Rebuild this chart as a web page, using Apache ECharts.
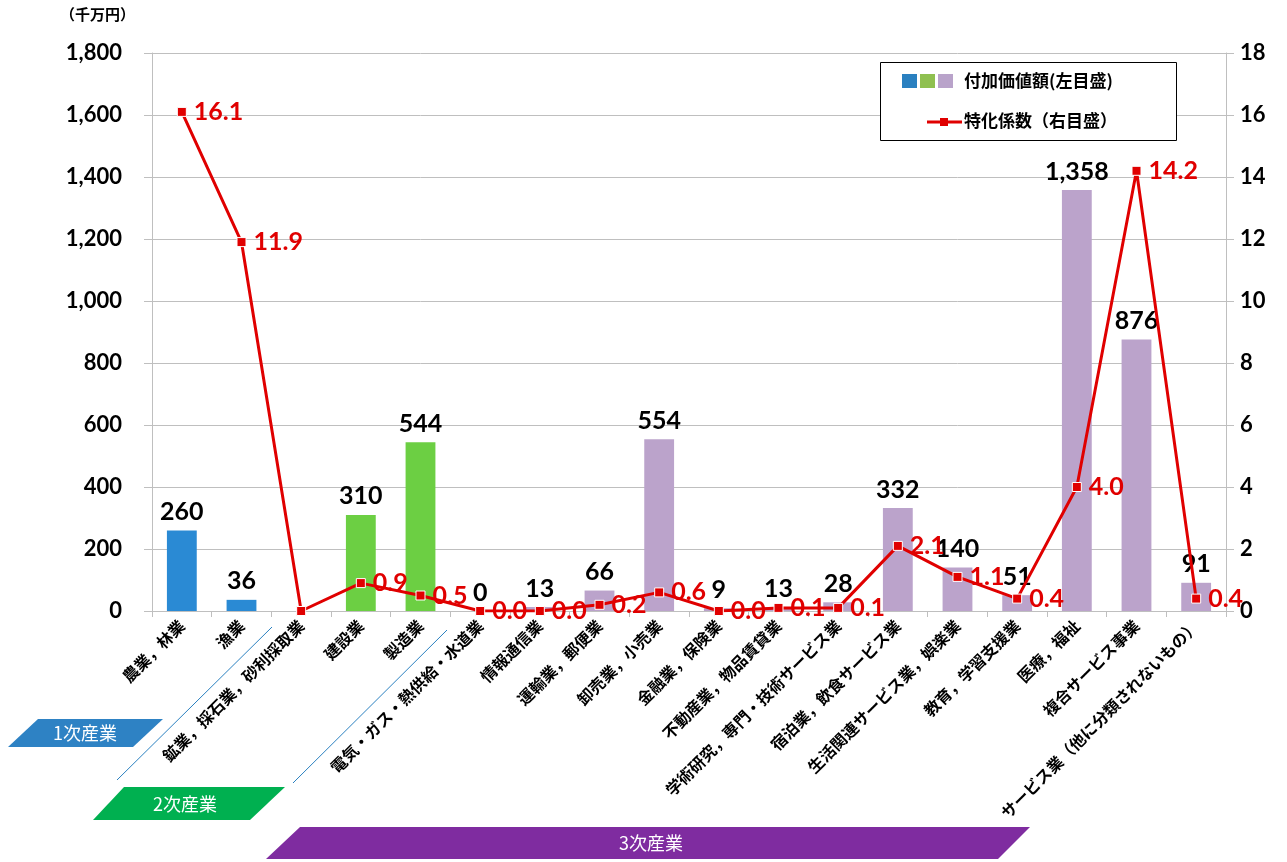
<!DOCTYPE html>
<html><head><meta charset="utf-8">
<script src="https://cdn.jsdelivr.net/npm/echarts@6/dist/echarts.min.js"></script>
<style>html,body{margin:0;padding:0;background:#fff}#c{width:1287px;height:862px}</style>
</head><body><div id="c"></div>
<script>
const categories = ['農業，林業','漁業','鉱業，採石業，砂利採取業','建設業','製造業','電気・ガス・熱供給・水道業','情報通信業','運輸業，郵便業','卸売業，小売業','金融業，保険業','不動産業，物品賃貸業','学術研究，専門・技術サービス業','宿泊業，飲食サービス業','生活関連サービス業，娯楽業','教育，学習支援業','医療，福祉','複合サービス事業','サービス業（他に分類されないもの）'];
const sectors = [1,1,2,2,2,3,3,3,3,3,3,3,3,3,3,3,3,3];
const valueAdded = [260,36,null,310,544,0,13,66,554,9,13,28,332,140,51,1358,876,91];
const coefficient = [16.1,11.9,0,0.9,0.5,0.0,0.0,0.2,0.6,0.0,0.1,0.1,2.1,1.1,0.4,4.0,14.2,0.4];
const coefLabelHidden = [false,false,true,false,false,false,false,false,false,false,false,false,false,false,false,false,false,false];
const leftTicks = {min:0,max:1800,interval:200};
const rightTicks = {min:0,max:18,interval:2};
const sectorColors = {1:'#2A8AD4',2:'#6CCF43',3:'#BBA3CB'};

const JP = '"Noto Sans CJK JP", sans-serif';
const NUM = 'Lato, "Noto Sans CJK JP", sans-serif';

const chart = echarts.init(document.getElementById('c'));
chart.setOption({
  animation:false,
  grid:{left:152,right:61,top:53,bottom:251},
  xAxis:{type:'category',data:categories,
    axisLine:{lineStyle:{color:'#BFBFBF'}},
    axisTick:{show:true,length:6,lineStyle:{color:'#BFBFBF'}},
    axisLabel:{rotate:45,margin:12,interval:0,color:'#000',fontFamily:JP,fontSize:16,fontWeight:'bold'}},
  yAxis:[
    {type:'value',min:leftTicks.min,max:leftTicks.max,interval:leftTicks.interval,
     axisLine:{show:true,lineStyle:{color:'#BFBFBF'}},
     axisTick:{show:true,length:8,lineStyle:{color:'#BFBFBF'}},
     splitLine:{lineStyle:{color:'#BFBFBF'}},
     axisLabel:{margin:30,color:'#000',fontFamily:NUM,fontSize:22,fontWeight:'bold',
       formatter:v=>v.toLocaleString('en-US')}},
    {type:'value',min:rightTicks.min,max:rightTicks.max,interval:rightTicks.interval,
     axisLine:{show:true,lineStyle:{color:'#BFBFBF'}},
     axisTick:{show:true,length:8,lineStyle:{color:'#BFBFBF'}},
     splitLine:{show:false},
     axisLabel:{margin:14,color:'#000',fontFamily:NUM,fontSize:22,fontWeight:'bold'}}
  ],
  series:[
    {type:'bar',yAxisIndex:0,barWidth:'50%',
     data:valueAdded.map((v,i)=>({value:v,itemStyle:{color:sectorColors[sectors[i]]}})),
     label:{show:true,position:'top',distance:6,color:'#000',fontFamily:NUM,fontSize:25,fontWeight:'bold',
       formatter:p=>p.value==null?'':Number(p.value).toLocaleString('en-US')}},
    {type:'line',yAxisIndex:1,z:5,
     data:coefficient.map((v,i)=>({value:v,label:{show:!coefLabelHidden[i]}})),
     lineStyle:{color:'#E00000',width:3},
     symbol:'rect',symbolSize:9,
     itemStyle:{color:'#E00000',borderColor:'#fff',borderWidth:1},
     label:{show:true,position:'right',distance:7,color:'#E00000',fontFamily:NUM,fontSize:25,fontWeight:'bold',
       formatter:p=>Number(p.value).toFixed(1)}}
  ],
  graphic:[
    {type:'text',left:60,top:7,style:{text:'（千万円）',font:'bold 15px '+JP,fill:'#000'}},
    {type:'rect',shape:{x:880.5,y:62.5,width:296,height:78},style:{fill:'#fff',stroke:'#000',lineWidth:1},z:10},
    {type:'rect',shape:{x:902,y:74,width:15,height:14},style:{fill:'#2A80C0'},z:11},
    {type:'rect',shape:{x:920,y:74,width:15,height:14},style:{fill:'#8FC050'},z:11},
    {type:'rect',shape:{x:938,y:74,width:15,height:14},style:{fill:'#B9A3CA'},z:11},
    {type:'text',x:964,y:81,style:{text:'付加価値額(左目盛)',font:'bold 17px '+JP,fill:'#000',verticalAlign:'middle'},z:11},
    {type:'line',shape:{x1:927,y1:122,x2:962,y2:122},style:{stroke:'#E00000',lineWidth:3},z:11},
    {type:'rect',shape:{x:940,y:118,width:8,height:8},style:{fill:'#E00000'},z:12},
    {type:'text',x:964,y:121,style:{text:'特化係数（右目盛）',font:'bold 17px '+JP,fill:'#000',verticalAlign:'middle'},z:11},
    {type:'line',shape:{x1:272,y1:627,x2:117,y2:780},style:{stroke:'#2A80C0',lineWidth:1}},
    {type:'line',shape:{x1:447,y1:630,x2:293,y2:783},style:{stroke:'#2A80C0',lineWidth:1}},
    {type:'polygon',shape:{points:[[38,719],[163,719],[133,747],[8,747]]},style:{fill:'#2E82C4'}},
    {type:'text',x:85,y:733,style:{text:'1次産業',font:'18px '+JP,fill:'#fff',align:'center',verticalAlign:'middle'}},
    {type:'polygon',shape:{points:[[124,787],[285,787],[250,820],[93,820]]},style:{fill:'#00B050'}},
    {type:'text',x:185,y:804,style:{text:'2次産業',font:'18px '+JP,fill:'#fff',align:'center',verticalAlign:'middle'}},
    {type:'polygon',shape:{points:[[300,827],[1030,827],[998,859],[266,859]]},style:{fill:'#7F2CA0'}},
    {type:'text',x:651,y:843,style:{text:'3次産業',font:'18px '+JP,fill:'#fff',align:'center',verticalAlign:'middle'}}
  ]
});
</script></body></html>
